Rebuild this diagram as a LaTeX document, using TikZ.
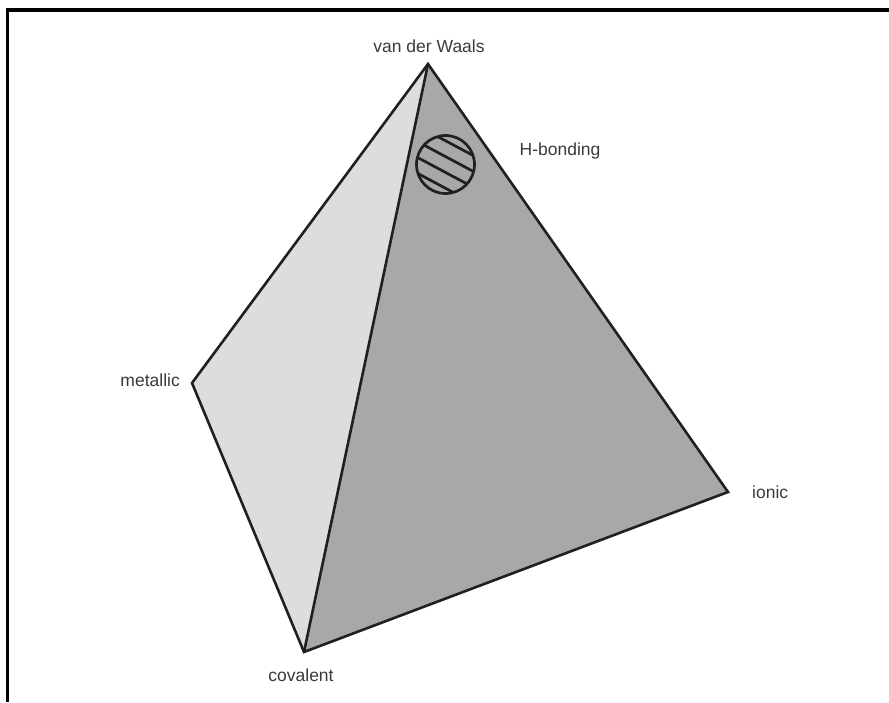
\documentclass[tikz,border=0pt]{standalone}
\usepackage{fontspec}
\setmainfont{Liberation Sans}
\usetikzlibrary{calc}
\definecolor{lightface}{HTML}{DCDDDF}
\definecolor{darkface}{HTML}{A7A8AA}
\definecolor{edge}{HTML}{231F20}
\definecolor{labeltext}{HTML}{3A3A3A}
\begin{document}
\begin{tikzpicture}[x=1pt,y=-1pt,
  edgeline/.style={draw=edge,line width=2.6pt,line join=miter},
  framel/.style={draw=black,line width=3.6pt},
  lbl/.style={text=labeltext,font=\fontsize{17.5}{21}\selectfont,inner sep=0pt},
  hatch/.style={draw=edge,line width=2.7pt}]
\useasboundingbox (0,0) rectangle (889,702);
% frame (top and left only)
\draw[framel] (6,9.8) -- (889,9.8);
\draw[framel] (7.5,8) -- (7.5,702);
% vertices
\coordinate (vdw) at (428,64);
\coordinate (met) at (192,383);
\coordinate (cov) at (304,652);
\coordinate (ion) at (728,492);
% faces
\fill[lightface] (vdw) -- (met) -- (cov) -- cycle;
\fill[darkface] (vdw) -- (cov) -- (ion) -- cycle;
\draw[edgeline] (vdw) -- (met) -- (cov) -- (ion) -- cycle;
\draw[edgeline] (vdw) -- (cov);
% H-bonding circle with hatch
\coordinate (hc) at (445.5,164.5);
\begin{scope}
  \clip (hc) circle (29);
  \foreach \d in {-21,-7,7,21} {
    \draw[hatch] ($(hc)+(-44,-23.5)+(-\d*0.47,\d*0.88)$) -- ($(hc)+(44,23.5)+(-\d*0.47,\d*0.88)$);
  }
\end{scope}
\draw[hatch] (hc) circle (29);
% labels
\node[lbl,anchor=base] (lvdw) at (429,52) {van der Waals};
\node[lbl,anchor=base] (lhb) at (560,155) {H-bonding};
\node[lbl,anchor=base east] (lmet) at (180,386) {metallic};
\node[lbl,anchor=base] (lcov) at (301,681) {covalent};
\node[lbl,anchor=base west] (lion) at (752,498) {ionic};
\end{tikzpicture}
\end{document}
